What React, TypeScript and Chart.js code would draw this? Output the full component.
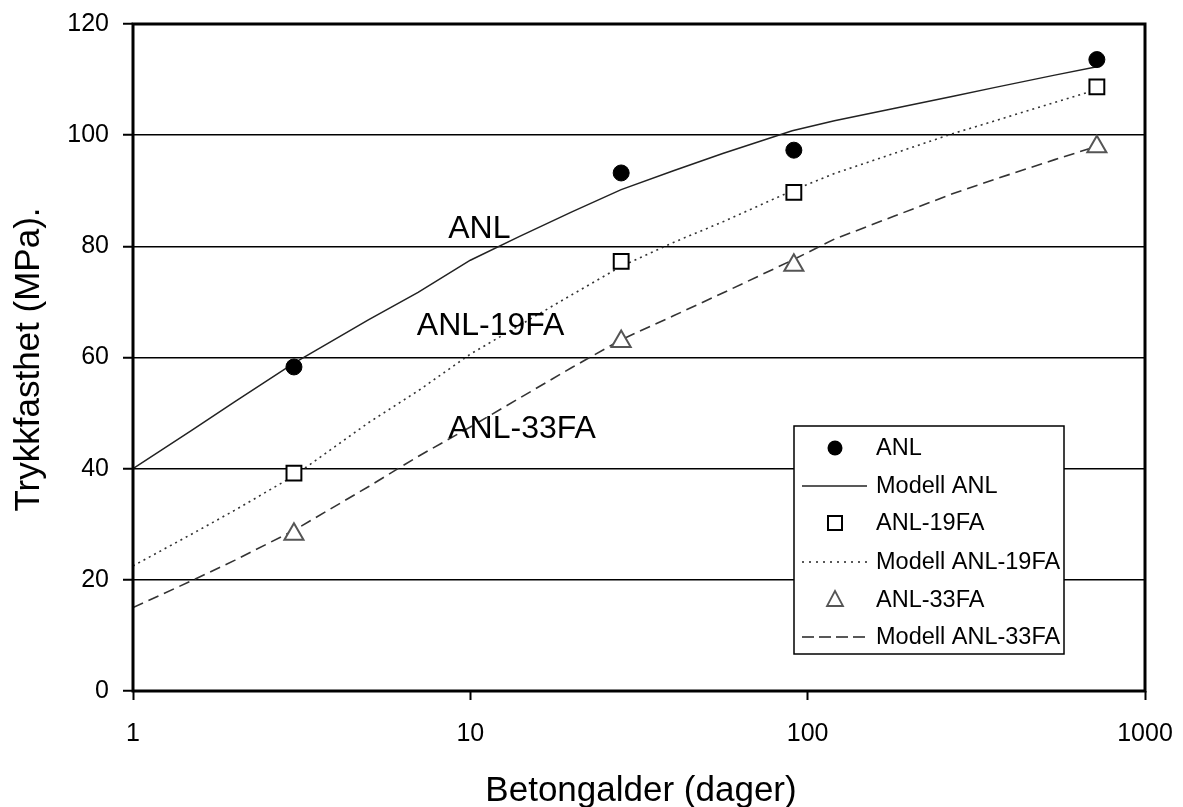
import React, { useEffect, useRef } from 'react';
import { Chart, registerables } from 'chart.js';

Chart.register(...registerables);

// ---- data ----
const testAges = [3, 28, 91, 720];
const anlMeasured = [58.3, 93.2, 97.3, 113.6];
const anl19Measured = [39.2, 77.3, 89.7, 108.7];
const anl33Measured = [28.2, 62.9, 76.6, 97.9];

const modelAges = [1, 1.5, 2, 3, 5, 7, 10, 14, 20, 28, 40, 56, 90, 120, 180, 270, 360, 540, 720];
const modelANL = [40, 47, 52, 59, 66.8, 71.7, 77.5, 81.8, 86.2, 90.2, 93.6, 96.7, 100.8, 102.6, 104.8, 107, 108.6, 110.8, 112.3];
const model19FA = [22.5, 28.3, 32.5, 38.7, 48.3, 54, 60.6, 65.8, 71.3, 76.4, 80.7, 84.4, 90, 93.1, 96.7, 100.3, 102.6, 105.9, 108.2];
const model33FA = [15, 19.9, 23.5, 28.9, 36.8, 42.2, 47.5, 52.7, 58.2, 63.2, 67.5, 71.6, 77.5, 81.3, 85.4, 89.5, 92.1, 95.6, 98];

const xTickValues = [1, 10, 100, 1000];
const yTickValues = [0, 20, 40, 60, 80, 100, 120];
const xTitle = 'Betongalder (dager)';
const yTitle = 'Trykkfasthet (MPa).';

const curveLabelTexts = ['ANL', 'ANL-19FA', 'ANL-33FA'];
const curveLabelAges = [8.6, 6.94, 8.6];
const curveLabelValues = [81.5, 64.1, 45.5];

const seriesLabels = ['ANL', 'Modell ANL', 'ANL-19FA', 'Modell ANL-19FA', 'ANL-33FA', 'Modell ANL-33FA'];

const FONT = '"Liberation Sans", Arial, Helvetica, sans-serif';

const pts = (xs: number[], ys: number[]) => xs.map((x, i) => ({ x, y: ys[i] }));

const overlayPlugin = {
  id: 'overlay',
  afterDatasetsDraw(chart: any) {
    const { ctx, scales } = chart;
    ctx.save();
    ctx.fillStyle = '#000';
    ctx.font = `32px ${FONT}`;
    ctx.textAlign = 'left';
    ctx.textBaseline = 'alphabetic';
    curveLabelTexts.forEach((t, i) => {
      ctx.fillText(t, scales.x.getPixelForValue(curveLabelAges[i]), scales.y.getPixelForValue(curveLabelValues[i]));
    });
    ctx.restore();
  },
  afterDraw(chart: any) {
    const { ctx, chartArea: a } = chart;
    ctx.save();
    // frame
    ctx.strokeStyle = '#000';
    ctx.lineWidth = 3;
    ctx.strokeRect(a.left, a.top, a.right - a.left, a.bottom - a.top);

    // axis titles
    ctx.fillStyle = '#000';
    ctx.font = `35px ${FONT}`;
    ctx.textAlign = 'center';
    ctx.textBaseline = 'alphabetic';
    ctx.fillText(xTitle, (a.left + a.right) / 2 + 2, a.bottom + 110);
    ctx.save();
    ctx.translate(39, (a.top + a.bottom) / 2 + 2);
    ctx.rotate(-Math.PI / 2);
    ctx.fillText(yTitle, 0, 0);
    ctx.restore();

    // legend box
    const bx = a.right - 351;
    const by = a.top + 402;
    const bw = 270;
    const bh = 228;
    ctx.fillStyle = '#fff';
    ctx.fillRect(bx, by, bw, bh);
    ctx.strokeStyle = '#000';
    ctx.lineWidth = 1.5;
    ctx.strokeRect(bx, by, bw, bh);

    const rowY = [22, 60, 97, 136, 174, 211].map((d) => by + d);
    const symX = bx + 41;
    const lx0 = bx + 8;
    const lx1 = bx + 73;
    const tx = bx + 82;

    ctx.font = `23.5px ${FONT}`;
    ctx.textAlign = 'left';
    ctx.textBaseline = 'middle';
    seriesLabels.forEach((lab, i) => {
      const y = rowY[i];
      ctx.save();
      if (i === 0) {
        ctx.fillStyle = '#000';
        ctx.beginPath();
        ctx.arc(symX, y, 7.5, 0, Math.PI * 2);
        ctx.fill();
      } else if (i === 2) {
        ctx.fillStyle = '#fff';
        ctx.strokeStyle = '#000';
        ctx.lineWidth = 2;
        ctx.fillRect(symX - 7, y - 7, 14, 14);
        ctx.strokeRect(symX - 7, y - 7, 14, 14);
      } else if (i === 4) {
        ctx.strokeStyle = '#555';
        ctx.lineWidth = 1.8;
        ctx.beginPath();
        ctx.moveTo(symX, y - 9);
        ctx.lineTo(symX + 8, y + 6);
        ctx.lineTo(symX - 8, y + 6);
        ctx.closePath();
        ctx.stroke();
      } else {
        ctx.strokeStyle = '#222';
        ctx.lineWidth = 1.5;
        if (i === 3) ctx.setLineDash([2, 5]);
        if (i === 5) ctx.setLineDash([12, 5]);
        ctx.beginPath();
        ctx.moveTo(lx0, y);
        ctx.lineTo(lx1, y);
        ctx.stroke();
      }
      ctx.restore();
      ctx.fillStyle = '#000';
      ctx.fillText(lab, tx, y + 1);
    });
    ctx.restore();
  },
};

export default function App() {
  const canvasRef = useRef<HTMLCanvasElement | null>(null);

  useEffect(() => {
    if (!canvasRef.current) return;
    const chart = new Chart(canvasRef.current, {
      type: 'line',
      data: {
        datasets: [
          {
            label: seriesLabels[0],
            data: pts(testAges, anlMeasured),
            showLine: false,
            pointStyle: 'circle',
            pointRadius: 8,
            pointBackgroundColor: '#000',
            pointBorderColor: '#000',
            pointBorderWidth: 1,
            order: 0,
          },
          {
            label: seriesLabels[1],
            data: pts(modelAges, modelANL),
            borderColor: '#222',
            borderWidth: 1.5,
            pointRadius: 0,
            tension: 0,
            order: 1,
          },
          {
            label: seriesLabels[2],
            data: pts(testAges, anl19Measured),
            showLine: false,
            pointStyle: 'rect',
            pointRadius: 10.5,
            pointBackgroundColor: '#fff',
            pointBorderColor: '#000',
            pointBorderWidth: 2,
            order: 0,
          },
          {
            label: seriesLabels[3],
            data: pts(modelAges, model19FA),
            borderColor: '#333',
            borderWidth: 1.6,
            borderDash: [2, 4],
            pointRadius: 0,
            tension: 0,
            order: 1,
          },
          {
            label: seriesLabels[4],
            data: pts(testAges, anl33Measured),
            showLine: false,
            pointStyle: 'triangle',
            pointRadius: 11,
            pointBackgroundColor: '#fff',
            pointBorderColor: '#555',
            pointBorderWidth: 2,
            order: 0,
          },
          {
            label: seriesLabels[5],
            data: pts(modelAges, model33FA),
            borderColor: '#333',
            borderWidth: 1.6,
            borderDash: [11, 6],
            pointRadius: 0,
            tension: 0,
            order: 1,
          },
        ],
      },
      options: {
        animation: false,
        responsive: true,
        maintainAspectRatio: false,
        events: [],
        layout: { padding: { left: 0, right: 38, top: 24, bottom: 0 } },
        plugins: {
          legend: { display: false },
          tooltip: { enabled: false },
          title: { display: false },
        },
        scales: {
          x: {
            type: 'logarithmic',
            min: 1,
            max: 1000,
            afterBuildTicks: (s: any) => {
              s.ticks = xTickValues.map((v) => ({ value: v }));
            },
            afterFit: (s: any) => {
              s.height = 116;
              s.paddingLeft = 0;
              s.paddingRight = 0;
              s.paddingTop = 0;
              s.paddingBottom = 0;
            },
            ticks: {
              autoSkip: false,
              maxRotation: 0,
              padding: 19,
              color: '#000',
              font: { size: 25, family: FONT },
              callback: (v: any) => String(v),
            },
            grid: {
              display: true,
              drawOnChartArea: false,
              drawTicks: true,
              tickLength: 9,
              tickWidth: 2,
              tickColor: '#000',
              color: '#000',
            },
            border: { display: false },
          },
          y: {
            type: 'linear',
            min: 0,
            max: 120,
            afterBuildTicks: (s: any) => {
              s.ticks = yTickValues.map((v) => ({ value: v }));
            },
            afterFit: (s: any) => {
              s.width = 133;
              s.paddingLeft = 0;
              s.paddingRight = 0;
              s.paddingTop = 0;
              s.paddingBottom = 0;
            },
            ticks: {
              padding: 14,
              color: '#000',
              font: { size: 25, family: FONT },
              callback: (v: any) => String(v),
            },
            grid: {
              color: '#000',
              lineWidth: 1.5,
              tickLength: 10,
              tickWidth: 2,
              tickColor: '#000',
            },
            border: { display: false },
          },
        },
      },
      plugins: [overlayPlugin],
    } as any);
    return () => chart.destroy();
  }, []);

  return (
    <div style={{ position: 'absolute', left: 0, top: 0, width: 1183, height: 807, background: '#fff' }}>
      <canvas ref={canvasRef} />
    </div>
  );
}
